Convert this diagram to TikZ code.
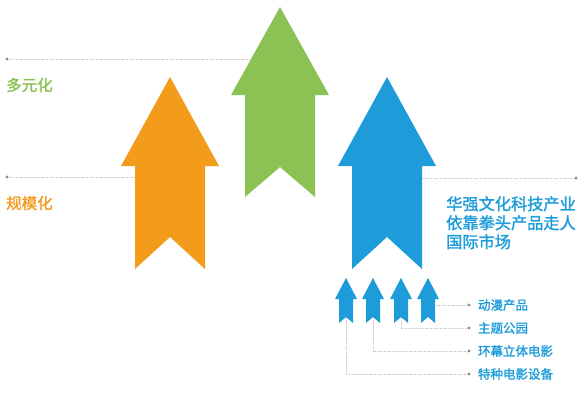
\documentclass[tikz,border=0pt]{standalone}
\usepackage{fontspec}
\newfontfamily\cjk[FakeBold=1.6]{Noto Sans CJK SC}
\usetikzlibrary{positioning}

\definecolor{orangeup}{HTML}{F39B1B}
\definecolor{greenup}{HTML}{8CC153}
\definecolor{blueup}{HTML}{1E9CD9}
\definecolor{guide}{HTML}{C8C8C8}

% #1 name, #2 colour, #3 centre x, #4 tip y, #5 head half width,
% #6 shaft half width, #7 head base y, #8 bottom y, #9 notch y
\newcommand{\uparrowshape}[9]{%
  \fill[#2] (#3,#4) -- (#3+#5,#7) -- (#3+#6,#7) -- (#3+#6,#8) -- (#3,#9)
    -- (#3-#6,#8) -- (#3-#6,#7) -- (#3-#5,#7) -- cycle;
  \coordinate (#1) at (#3,{(#7+#9)/2});
}

\begin{document}
\begin{tikzpicture}[x=1pt,y=-1pt,
  guide line/.style={draw=guide,dash pattern=on 1.5pt off 1pt,line width=0.7pt},
  end dot/.style={circle,fill=guide!70!black,inner sep=0pt,minimum size=3.2pt},
  level text/.style={inner sep=0pt,anchor=west,font=\cjk\fontsize{15.5}{17}\selectfont},
  item text/.style={inner sep=0pt,font=\cjk\fontsize{12.5}{14}\selectfont,text=blueup}]

\useasboundingbox (0,0) rectangle (588,400);

% guide dots and labels
\node[end dot] (dotA) at (7,59) {};
\node[end dot] (dotB) at (7,177) {};
\node[end dot] (dotC) at (576,178) {};
\node[level text,text=greenup] (multi) at (6,85) {多元化};
\node[level text,text=orangeup] (scale) at (6,203) {规模化};

\node[end dot] (d1) at (469,305) {};
\node[end dot] (d2) at (469,328) {};
\node[end dot] (d3) at (469,351) {};
\node[end dot] (d4) at (469,374) {};
\node[item text,right=7pt of d1] (anime) {动漫产品};
\node[item text,right=7pt of d2] (park) {主题公园};
\node[item text,right=7pt of d3] (film) {环幕立体电影};
\node[item text,right=7pt of d4] (gear) {特种电影设备};

\node[inner sep=0pt,anchor=north west,align=left,text=blueup,
  font=\cjk\fontsize{16.2}{19}\selectfont] (huaqiang) at (446,196)
  {华强文化科技产业\\依靠拳头产品走人\\国际市场};

% arrows, coordinates only
\coordinate (orange) at (170,200);
\coordinate (green) at (280,59);
\coordinate (blue) at (387,200);
\coordinate (s1) at (346,312);
\coordinate (s2) at (373,312);
\coordinate (s3) at (401,312);
\coordinate (s4) at (428,305);

% dashed guides (the arrows are drawn over them)
\draw[guide line] (dotA) -- (dotA -| green);
\draw[guide line] (dotB) -- (dotB -| orange);
\draw[guide line] (dotC) -- (dotC -| blue);
\draw[guide line] (d1) -- (s4);
\draw[guide line] (s3) |- (d2);
\draw[guide line] (s2) |- (d3);
\draw[guide line] (s1) |- (d4);

\uparrowshape{orangeup-a}{orangeup}{170}{77}{49}{35}{166}{269}{237}
\uparrowshape{greenup-a}{greenup}{280}{7}{49}{35}{95}{197}{167}
\uparrowshape{blueup-a}{blueup}{387}{77}{49}{35}{166}{269}{237}
\foreach \cx in {346,373,401,428}
  \uparrowshape{small}{blueup}{\cx}{278}{11}{7}{299}{323}{317};

\end{tikzpicture}
\end{document}
